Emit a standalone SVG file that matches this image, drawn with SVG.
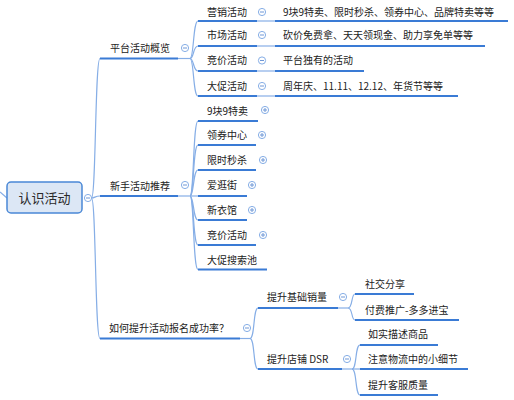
<svg xmlns="http://www.w3.org/2000/svg" width="514" height="400" viewBox="0 0 514 400">
<style>
.t{font-family:"Noto Sans CJK SC","Microsoft YaHei",sans-serif;font-size:10px;fill:#222}
.r{font-family:"Noto Sans CJK SC","Microsoft YaHei",sans-serif;font-size:13px;fill:#2a2a2a}
.u{stroke:#3a7bd5;stroke-width:2;fill:none}
.c{stroke:#86aee6;stroke-width:1.2;fill:none}
.k{fill:#fff;stroke:#86aee6;stroke-width:1}
.s{stroke:#6f97d6;stroke-width:1}
</style>
<defs>
<g id="minus"><circle class="k" r="3.6"/><line class="s" x1="-2" y1="0" x2="2" y2="0"/></g>
<g id="plus"><circle class="k" r="3.6"/><line class="s" x1="-2" y1="0" x2="2" y2="0"/><line class="s" x1="0" y1="-2" x2="0" y2="2"/></g>
</defs>
<rect width="514" height="400" fill="#fff"/>

<g id="connectors">
<path class="c" d="M0,192 L7,198"/>
<path class="c" d="M91.5,198 C96,198 95,58.5 100,58.5"/>
<path class="c" d="M91.5,198 C95,198 95,196 100,196"/>
<path class="c" d="M91.5,198 C96,198 95,338.5 100,338.5"/>
<path class="c" d="M178,58.5 L190,58.5"/>
<path class="c" d="M190,58.5 C194,58.5 193,21 198,21"/>
<path class="c" d="M190,58.5 C194,58.5 193,46 198,46"/>
<path class="c" d="M190,58.5 C194,58.5 193,71 198,71"/>
<path class="c" d="M190,58.5 C194,58.5 193,96 198,96"/>
<path class="c" d="M257,21 L275,21"/>
<path class="c" d="M257,46 L275,46"/>
<path class="c" d="M257,71 L275,71"/>
<path class="c" d="M257,96 L275,96"/>
<path class="c" d="M178,196 L198,196"/>
<path class="c" d="M190,196 C194,196 193,121 198,121"/>
<path class="c" d="M190,196 C194,196 193,145 198,145"/>
<path class="c" d="M190,196 C194,196 193,170 198,170"/>
<path class="c" d="M190,196 C194,196 193,220 198,220"/>
<path class="c" d="M190,196 C194,196 193,245 198,245"/>
<path class="c" d="M190,196 C194,196 193,269.5 198,269.5"/>
<path class="c" d="M240,338.5 L250,338.5"/>
<path class="c" d="M250,338.5 C255,338.5 253,308 258,308"/>
<path class="c" d="M250,338.5 C255,338.5 253,369 258,369"/>
<path class="c" d="M338,308 L348,308"/>
<path class="c" d="M348,308 C353,308 351,294 355,294"/>
<path class="c" d="M348,308 C353,308 351,320 355,320"/>
<path class="c" d="M342,369 L360,369"/>
<path class="c" d="M352,369 C357,369 355,345 360,345"/>
<path class="c" d="M352,369 C357,369 355,395 360,395"/>
</g>

<g id="root">
<rect x="7" y="182" width="75" height="31" rx="4" fill="#dce7f5" stroke="#4a88d6" stroke-width="1.5"/>
<text class="r" x="44.5" y="202.5" text-anchor="middle">认识活动</text>
<use href="#minus" x="88" y="198"/>
</g>

<g id="n-pingtai">
<text class="t" x="110" y="51.5">平台活动概览</text>
<path class="u" d="M100,58.5 H178"/>
<use href="#minus" x="185" y="48"/>
</g>
<g id="n-xinshou">
<text class="t" x="110" y="189.5">新手活动推荐</text>
<path class="u" d="M100,196 H178"/>
<use href="#minus" x="185" y="185"/>
</g>
<g id="n-ruhe">
<text class="t" x="109" y="331.5">如何提升活动报名成功率？</text>
<path class="u" d="M100,338.5 H240"/>
<use href="#minus" x="247" y="328"/>
</g>

<g id="n-yingxiao">
<text class="t" x="207" y="15.5">营销活动</text>
<path class="u" d="M198,21 H257"/>
<use href="#minus" x="262" y="12"/>
</g>
<g id="n-shichang">
<text class="t" x="207" y="38.5">市场活动</text>
<path class="u" d="M198,46 H257"/>
<use href="#minus" x="262" y="35"/>
</g>
<g id="n-jingjia1">
<text class="t" x="207" y="64">竞价活动</text>
<path class="u" d="M198,71 H257"/>
<use href="#minus" x="262" y="60.5"/>
</g>
<g id="n-dacu1">
<text class="t" x="207" y="89.5">大促活动</text>
<path class="u" d="M198,96 H257"/>
<use href="#minus" x="262" y="86"/>
</g>

<g id="n-yingxiao-d">
<text class="t" x="283" y="15.5">9块9特卖、限时秒杀、领券中心、品牌特卖等等</text>
<path class="u" d="M275,21 H508"/>
</g>
<g id="n-shichang-d">
<text class="t" x="283" y="38.5">砍价免费拿、天天领现金、助力享免单等等</text>
<path class="u" d="M275,46 H485"/>
</g>
<g id="n-jingjia-d">
<text class="t" x="283" y="64">平台独有的活动</text>
<path class="u" d="M275,71 H364"/>
</g>
<g id="n-dacu-d">
<text class="t" x="283" y="89.5">周年庆、11.11、12.12、年货节等等</text>
<path class="u" d="M275,96 H458"/>
</g>

<g id="n-99">
<text class="t" x="207" y="114.5">9块9特卖</text>
<path class="u" d="M198,121 H258"/>
<use href="#plus" x="265" y="110"/>
</g>
<g id="n-lingquan">
<text class="t" x="207" y="138.5">领券中心</text>
<path class="u" d="M198,145 H256"/>
<use href="#plus" x="262" y="135"/>
</g>
<g id="n-xianshi">
<text class="t" x="207" y="163.5">限时秒杀</text>
<path class="u" d="M198,170 H256"/>
<use href="#plus" x="263" y="160"/>
</g>
<g id="n-aiguangjie">
<text class="t" x="207" y="188.5">爱逛街</text>
<path class="u" d="M198,196 H247"/>
<use href="#plus" x="252" y="185"/>
</g>
<g id="n-xinyiguan">
<text class="t" x="207" y="213.5">新衣馆</text>
<path class="u" d="M198,220 H247"/>
<use href="#plus" x="252" y="210"/>
</g>
<g id="n-jingjia2">
<text class="t" x="207" y="238.5">竞价活动</text>
<path class="u" d="M198,245 H256"/>
<use href="#plus" x="263" y="235"/>
</g>
<g id="n-dacusousuo">
<text class="t" x="207" y="263.5">大促搜索池</text>
<path class="u" d="M198,269.5 H267"/>
</g>

<g id="n-jichu">
<text class="t" x="267" y="300.5">提升基础销量</text>
<path class="u" d="M258,308 H338"/>
<use href="#minus" x="343" y="297"/>
</g>
<g id="n-dsr">
<text class="t" x="267" y="362.5">提升店铺 DSR</text>
<path class="u" d="M258,369 H342"/>
<use href="#minus" x="347" y="359"/>
</g>

<g id="n-shejiao">
<text class="t" x="365" y="287.5">社交分享</text>
<path class="u" d="M355,294 H414"/>
</g>
<g id="n-fufei">
<text class="t" x="365" y="313.5">付费推广-多多进宝</text>
<path class="u" d="M355,320 H459"/>
</g>
<g id="n-rushi">
<text class="t" x="368" y="337.5">如实描述商品</text>
<path class="u" d="M360,345 H438"/>
</g>
<g id="n-wuliu">
<text class="t" x="368" y="362.5">注意物流中的小细节</text>
<path class="u" d="M360,369 H468"/>
</g>
<g id="n-kefu">
<text class="t" x="368" y="388.5">提升客服质量</text>
<path class="u" d="M360,395 H438"/>
</g>
</svg>
